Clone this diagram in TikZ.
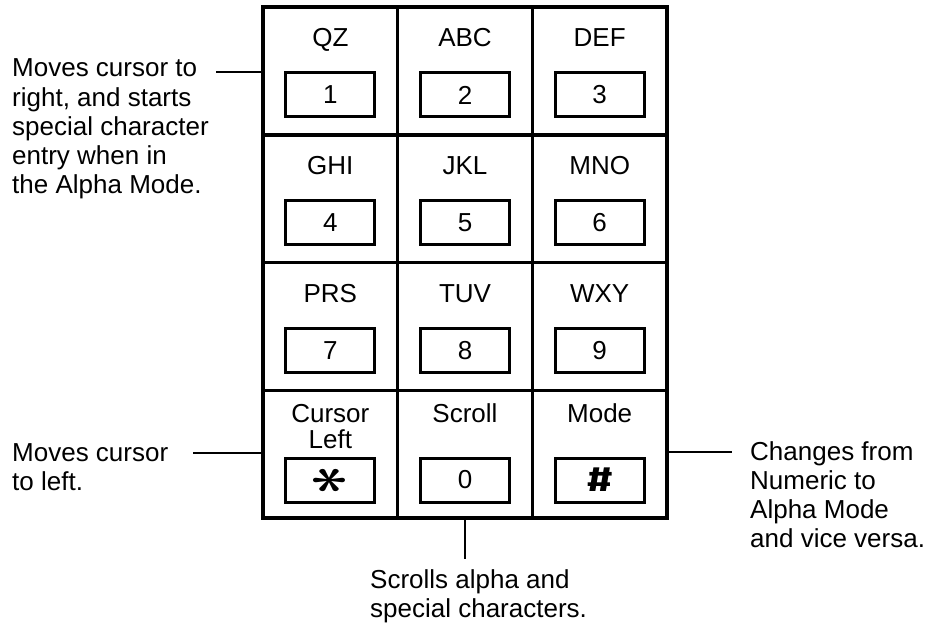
\documentclass[tikz,border=0pt]{standalone}
\usepackage{fontspec}
\setmainfont{Liberation Sans}
\newfontfamily\hashfont{Fira Sans}
\begin{document}
\begin{tikzpicture}[x=1pt,y=-1pt,
  every node/.style={font=\fontsize{26}{29.3}\selectfont},
  cell/.style={draw,line width=3.5pt,minimum width=134.67pt,minimum height=127.75pt,inner sep=0pt},
  keybox/.style={draw,line width=3pt,minimum width=89pt,minimum height=44pt,inner sep=0pt},
  keylabel/.style={inner sep=0pt,align=center,anchor=base},
  note/.style={inner sep=0pt,align=left,anchor=north west},
  lead/.style={line width=1.1pt}]
\useasboundingbox (0,0) rectangle (930,626);
% cells
\foreach \r/\ry in {1/70.875,2/198.625,3/326.375,4/454.125}{
  \foreach \c/\cx in {1/330.33,2/465,3/599.67}{
    \node[cell] (cell\r\c) at (\cx,\ry) {};
  }
}
\foreach \r/\top in {1/7,2/134.75,3/262.5}{
  \foreach \c/\cx in {1/330.33,2/465,3/599.67}{
    \coordinate (lab\r\c) at (\cx,\top+40);
    \coordinate (key\r\c) at (\cx,\top+88);
  }
}
\node[keylabel] (t11) at (lab11) {QZ};
\node[keylabel] (t12) at (lab12) {ABC};
\node[keylabel] (t13) at (lab13) {DEF};
\node[keylabel] (t21) at (lab21) {GHI};
\node[keylabel] (t22) at (lab22) {JKL};
\node[keylabel] (t23) at (lab23) {MNO};
\node[keylabel] (t31) at (lab31) {PRS};
\node[keylabel] (t32) at (lab32) {TUV};
\node[keylabel] (t33) at (lab33) {WXY};
\node[keybox] (k1) at (key11) {1};
\node[keybox] (k2) at (key12) {2};
\node[keybox] (k3) at (key13) {3};
\node[keybox] (k4) at (key21) {4};
\node[keybox] (k5) at (key22) {5};
\node[keybox] (k6) at (key23) {6};
\node[keybox] (k7) at (key31) {7};
\node[keybox] (k8) at (key32) {8};
\node[keybox] (k9) at (key33) {9};
% row 4
\node[keylabel] (t41a) at (330.33,422) {Cursor};
\node[keylabel] (t41b) at (330.33,448) {Left};
\node[keylabel] (t42) at (465,422) {Scroll};
\node[keylabel] (t43) at (599.67,422) {Mode};
\node[keybox] (kstar) at (330.33,480) {\scalebox{2.9}[2.1]{\rotatebox{90}{\boldmath$\ast$}}};
\node[keybox] (k0) at (465,480) {0};
\node[keybox] (khash) at (599.67,480) {\scalebox{1.3}[1]{\hashfont\bfseries\fontsize{35}{35}\selectfont\#}};
% notes
\node[note] (n1) at (12,58.7) {Moves cursor to\\right, and starts\\special character\\entry when in\\the Alpha Mode.};
\node[note] (n2) at (12,443) {Moves cursor\\to left.};
\node[note] (n3) at (750,441) {Changes from\\Numeric to\\Alpha Mode\\and vice versa.};
\node[note] (n4) at (370,569) {Scrolls alpha and\\special characters.};
% leaders
\coordinate (c1) at (216,72);
\coordinate (c2) at (193,453);
\coordinate (c3) at (732,452);
\coordinate (c4) at (465,559);
\draw[lead] (c1) -- (c1 -| cell11.west);
\draw[lead] (c2) -- (c2 -| cell41.west);
\draw[lead] (c3 -| cell43.east) -- (c3);
\draw[lead] (cell42.south) -- (c4);
\end{tikzpicture}
\end{document}
